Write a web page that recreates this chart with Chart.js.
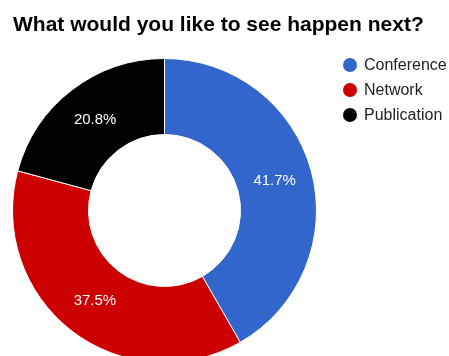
<!DOCTYPE html>
<html>
<head>
<meta charset="utf-8">
<script src="https://cdn.jsdelivr.net/npm/chart.js@4"></script>
<style>
html,body{margin:0;padding:0;background:#fff;}
#wrap{width:449px;height:356px;position:relative;}
</style>
</head>
<body>
<div id="wrap"><canvas id="c" width="449" height="356"></canvas></div>
<script>
const titleText = 'What would you like to see happen next?';
const categories = ['Conference', 'Network', 'Publication'];
const shares = [41.7, 37.5, 20.8];
const sliceColors = ['#3366cc', '#cc0000', '#000000'];

const topTitle = {
  id: 'topTitle',
  afterDraw(chart) {
    const ctx = chart.ctx;
    ctx.save();
    ctx.font = 'bold 21px "Liberation Sans", Arial, sans-serif';
    ctx.fillStyle = '#000000';
    ctx.textAlign = 'left';
    ctx.textBaseline = 'alphabetic';
    ctx.fillText(titleText, 13, 30.5);
    ctx.restore();
  }
};

const sliceLabels = {
  id: 'sliceLabels',
  afterDatasetsDraw(chart) {
    const ctx = chart.ctx;
    const meta = chart.getDatasetMeta(0);
    ctx.save();
    ctx.font = '15px "Liberation Sans", Arial, sans-serif';
    ctx.fillStyle = '#ffffff';
    ctx.textAlign = 'center';
    ctx.textBaseline = 'middle';
    meta.data.forEach((arc, i) => {
      const p = arc.getProps(['x','y','startAngle','endAngle','innerRadius','outerRadius'], true);
      const a = (p.startAngle + p.endAngle) / 2;
      const r = (p.innerRadius + p.outerRadius) / 2;
      ctx.fillText(shares[i].toFixed(1) + '%', p.x + Math.cos(a) * r, p.y + Math.sin(a) * r);
    });
    ctx.restore();
  }
};

const sideLegend = {
  id: 'sideLegend',
  afterDraw(chart) {
    const ctx = chart.ctx;
    ctx.save();
    ctx.font = '16px "Liberation Sans", Arial, sans-serif';
    ctx.textBaseline = 'middle';
    ctx.textAlign = 'left';
    categories.forEach((name, i) => {
      const y = 65 + i * 25;
      ctx.beginPath();
      ctx.arc(350, y, 7, 0, Math.PI * 2);
      ctx.fillStyle = sliceColors[i];
      ctx.fill();
      ctx.fillStyle = '#222222';
      ctx.fillText(name, 364, y + 1);
    });
    ctx.restore();
  }
};

new Chart(document.getElementById('c'), {
  type: 'doughnut',
  data: {
    labels: categories,
    datasets: [{
      data: shares,
      backgroundColor: sliceColors,
      borderColor: '#ffffff',
      borderWidth: 1,
      radius: 152,
      cutout: '50%'
    }]
  },
  options: {
    responsive: false,
    animation: false,
    layout: { padding: { left: 13, right: 133, top: 65, bottom: 0 } },
    plugins: {
      legend: { display: false },
      tooltip: { enabled: false },
      title: { display: false }
    }
  },
  plugins: [topTitle, sliceLabels, sideLegend]
});
</script>
</body>
</html>
